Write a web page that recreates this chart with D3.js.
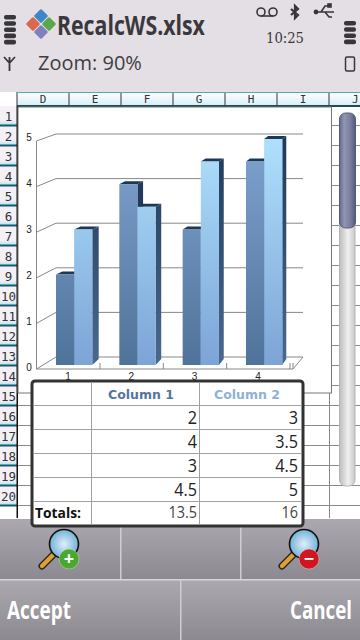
<!DOCTYPE html>
<html><head><meta charset="utf-8">
<script src="https://cdn.jsdelivr.net/npm/d3@7"></script>
<style>html,body{margin:0;padding:0;background:#fff;overflow:hidden}svg{display:block}text{font-family:"Open Sans",sans-serif}</style>
</head><body><svg id="c" width="360" height="640"></svg>
<script>
const categories=[1,2,3,4];
const column1=[2,4,3,4.5];
const column2=[3,3.5,4.5,5];
const yTicks=[0,1,2,3,4,5];
const colHeaders=["D","E","F","G","H","I","J"];
const rowHeaders=d3.range(1,21);
const tableRows=[["",2,3],["",4,3.5],["",3,4.5],["",4.5,5]];
const totals=["Totals:","13.5","16"];
const seriesNames=["Column 1","Column 2"];

const svg=d3.select("#c");
const defs=svg.append("defs");
function grad(id,stops,x2=0,y2=1,user){const g=defs.append("linearGradient").attr("id",id);
 if(user){g.attr("gradientUnits","userSpaceOnUse").attr("x1",0).attr("x2",0).attr("y1",139).attr("y2",365);}
 else g.attr("x1",0).attr("y1",0).attr("x2",x2).attr("y2",y2);
 stops.forEach(s=>g.append("stop").attr("offset",s[0]).attr("stop-color",s[1]));}
grad("b1",[[0,"#7fa3d0"],[1,"#50739a"]],0,1,true);
grad("b2",[[0,"#aee0fc"],[1,"#7ca4d6"]],0,1,true);
grad("side",[[0,"#20395a"],[1,"#48698f"]],0,1,true);
grad("thumb",[[0,"#5f6a8c"],[.3,"#9297b0"],[.7,"#767c9c"],[1,"#4f5a7a"]],1,0);
grad("track",[[0,"#bcbcbc"],[.55,"#f0f0f0"],[1,"#c8c8c8"]],1,0);
grad("btn",[[0,"#aba8b0"],[1,"#8c8990"]]);
grad("hdr",[[0,"#ffffff"],[1,"#d6eef4"]]);
grad("rhdr",[[0,"#f6f0f6"],[.72,"#f2f0f6"],[1,"#a8e0ee"]]);
const lens=defs.append("radialGradient").attr("id","lens");
lens.append("stop").attr("offset",0).attr("stop-color","#dcf0fa");lens.append("stop").attr("offset",1).attr("stop-color","#76b0d8");

// squeeze a text horizontally to mimic the device font's narrower glyphs
function squeeze(sel,f){const n=sel.node();sel.attr("textLength",n.getComputedTextLength()*f).attr("lengthAdjust","spacingAndGlyphs");return sel;}
// draw a text at (x,y) scaled horizontally so that it is exactly w wide
function fitWidth(sel,x,yy,w){const k=w/sel.node().getComputedTextLength();sel.attr("transform",`translate(${x},${yy}) scale(${k},1)`);return sel;}

// status pane
svg.append("rect").attr("width",360).attr("height",92).attr("fill","#e3dfe4");
fitWidth(svg.append("text").attr("font-size",27).attr("font-weight",700).attr("fill","#3a383c").text("RecalcWS.xlsx"),57,35,148);
svg.append("text").attr("x",38).attr("y",70).attr("font-size",20).attr("fill","#3f3d42").text("Zoom: 90%");
svg.append("text").attr("x",266).attr("y",43).attr("font-size",15).attr("fill","#3a383c").style("font-family","'DejaVu Serif'").attr("textLength",38).attr("lengthAdjust","spacingAndGlyphs").text("10:25");
[[4,15,5],[344,21,4]].forEach(p=>d3.range(p[2]).forEach(i=>svg.append("rect").attr("x",p[0]).attr("y",p[1]+i*6.2).attr("width",12).attr("height",4.6).attr("rx",2).attr("fill","#38363a")));
svg.append("path").attr("d","M4 57 L9.5 63 L15 57 M9.5 57V71").attr("fill","none").attr("stroke","#38363a").attr("stroke-width",1.8);
svg.append("rect").attr("x",345.5).attr("y",57).attr("width",9).attr("height",14).attr("rx",1.5).attr("fill","none").attr("stroke","#38363a").attr("stroke-width",1.5);
svg.append("g").attr("fill","none").attr("stroke","#38363a").attr("stroke-width",1.6).call(g=>{
 g.append("circle").attr("cx",261).attr("cy",12).attr("r",4);g.append("circle").attr("cx",273).attr("cy",12).attr("r",4);
 g.append("path").attr("d","M261 16H273");
 g.append("path").attr("stroke-width",2.2).attr("d","M291 9L298 15L295 18V6L298 9L291 15");
 g.append("path").attr("d","M316 12H334M321 12L325 6H329M325 12L329 17H332");
 g.append("circle").attr("cx",316).attr("cy",12).attr("r",1.6).attr("fill","#38363a");
 g.append("rect").attr("x",328).attr("y",4).attr("width",3).attr("height",3).attr("fill","#38363a");
});
// app icon
[["#3f86c8",41,16],["#5aa84a",49,24],["#d8694d",33,24],["#8080c0",41,32]].forEach(d=>svg.append("rect").attr("x",d[1]-5.2).attr("y",d[2]-5.2).attr("width",10.4).attr("height",10.4).attr("rx",1.5).attr("fill",d[0]).attr("transform",`rotate(45 ${d[1]} ${d[2]})`));

// sheet
const colX=d3.scaleLinear().domain([0,7]).range([17,381]);
const rowY=d3.scaleLinear().domain([1,21]).range([106,506]);
const sheet=svg.append("g");
sheet.selectAll("rect.c").data(colHeaders).join("rect").attr("x",(d,i)=>colX(i)).attr("y",92).attr("width",52).attr("height",14).attr("fill","url(#hdr)");
sheet.selectAll("line.v").data(d3.range(0,7)).join("line").attr("x1",colX).attr("x2",colX).attr("y1",92).attr("y2",106).attr("stroke","#333");
sheet.append("rect").attr("x",17).attr("y",92).attr("width",343).attr("height",1).attr("fill","#5ba7b3");
sheet.append("rect").attr("x",17).attr("y",105).attr("width",343).attr("height",2).attr("fill","#1c4a55");
sheet.selectAll("text.c").data(colHeaders.slice(0,6)).join("text").attr("x",(d,i)=>colX(i)+26).attr("y",103).attr("text-anchor","middle").attr("font-size",11).attr("fill","#333").style("font-family","'DejaVu Sans Mono'").text(d=>d);
sheet.append("text").attr("x",352).attr("y",103).attr("font-size",11).attr("fill","#333").style("font-family","'DejaVu Sans Mono'").text(colHeaders[6]);
sheet.selectAll("rect.r").data(rowHeaders).join("rect").attr("x",0).attr("y",d=>rowY(d)).attr("width",17).attr("height",20).attr("fill","url(#rhdr)");
sheet.selectAll("rect.rb").data(rowHeaders).join("rect").attr("x",0).attr("y",d=>rowY(d)+18.5).attr("width",17).attr("height",2).attr("fill","#125a70");
sheet.selectAll("text.r").data(rowHeaders).join("text").attr("x",8.5).attr("y",d=>rowY(d)+15).attr("text-anchor","middle").attr("font-size",12.5).attr("fill","#333").style("font-family","'DejaVu Sans Mono'").text(d=>d);
sheet.append("rect").attr("x",16.5).attr("y",106).attr("width",1.5).attr("height",412).attr("fill","#111");
const grid=sheet.append("g").attr("stroke","#8a8a8a").attr("stroke-width",1);
rowHeaders.forEach(r=>grid.append("line").attr("x1",18).attr("x2",360).attr("y1",rowY(r)+19.5).attr("y2",rowY(r)+19.5));
d3.range(1,7).forEach(i=>grid.append("line").attr("x1",colX(i)+.5).attr("x2",colX(i)+.5).attr("y1",107).attr("y2",518));
svg.append("rect").attr("x",18).attr("y",107).attr("width",313.5).attr("height",286).attr("fill","#fff").attr("stroke","#777");

// chart scales
const y=d3.scaleLinear().domain([0,5]).range([365,139]);
const yBack=d3.scaleLinear().domain([0,5]).range([357,134]);
const yFront=d3.scaleLinear().domain([0,5]).range([369,141]);
const yLabel=d3.scaleLinear().domain([0,5]).range([370.5,140.5]);
const x0=d3.scaleBand().domain(categories).range([56,309.3]);
const groupW=36.3;
const x1=d3.scaleBand().domain([0,1]).range([0,groupW]);
const depth=d3.scaleLinear().domain([1,4]).range([6.4,4]);
const plot=svg.append("g").attr("fill","none");
yTicks.forEach(t=>{
 plot.append("path").attr("d",`M36.5 ${yFront(t)}L56 ${yBack(t)}H303`).attr("stroke","#888");
 plot.append("text").attr("x",29).attr("y",yLabel(t)).attr("text-anchor","middle").attr("font-size",10).attr("fill","#222").style("font-family","'Liberation Sans'").text(t);
});
plot.append("path").attr("d",`M36.5 ${yFront(5)}V${yFront(0)}H293L303 ${yBack(0)}M293 369V363`).attr("stroke","#888");
categories.forEach(c=>{
 const tx=x0(c)+44;
 plot.append("line").attr("x1",tx).attr("x2",tx).attr("y1",363).attr("y2",369).attr("stroke","#888");
 plot.append("text").attr("x",x0(c)+12).attr("y",380).attr("text-anchor","middle").attr("font-size",10).attr("fill","#222").style("font-family","'Liberation Sans'").text(c);
});
const bars=svg.append("g");
const rows=categories.map((c,i)=>({c,i,v:[column1[i],column2[i]]}));
rows.forEach(r=>{
 const gx=x0(r.c),d=depth(r.c);
 [0,1].forEach(s=>{
  const bx=gx+x1(s),w=x1.bandwidth(),top=y(r.v[s]);
  bars.append("path").attr("d",`M${bx} ${top}L${bx+d} ${top-3}H${bx+w+d}L${bx+w} ${top}Z`).attr("fill","#1d3856");
  bars.append("path").attr("d",`M${bx+w} ${top}L${bx+w+d} ${top-3}V${y(0)-6}L${bx+w} ${y(0)}Z`).attr("fill",s==0?"#1f3a5a":"url(#side)");
 });
 [0,1].forEach(s=>{
  const bx=gx+x1(s),w=x1.bandwidth(),top=y(r.v[s]);
  bars.append("rect").attr("x",bx).attr("y",top).attr("width",w).attr("height",y(0)-top).attr("fill",`url(#b${s+1})`);
 });
});

// scrollbar
svg.append("rect").attr("x",339.5).attr("y",120).attr("width",15.5).attr("height",366).attr("rx",6).attr("fill","url(#track)").attr("stroke","#b4b4b4");
svg.append("rect").attr("x",339.5).attr("y",113).attr("width",16).attr("height",115).attr("rx",6).attr("fill","url(#thumb)").attr("stroke","#5a5a78");

// buttons
const b=svg.append("g");
b.append("rect").attr("x",0).attr("y",519).attr("width",360).attr("height",60).attr("fill","url(#btn)");
b.append("rect").attr("x",0).attr("y",580).attr("width",360).attr("height",60).attr("fill","url(#btn)");
b.append("rect").attr("x",0).attr("y",579).attr("width",360).attr("height",1.5).attr("fill","#d8d6dc");
[120,240].forEach(v=>b.append("rect").attr("x",v).attr("y",519).attr("width",1.5).attr("height",60).attr("fill","#cfcdd4"));
b.append("rect").attr("x",180).attr("y",580).attr("width",1.5).attr("height",60).attr("fill","#cfcdd4");
fitWidth(b.append("text").attr("font-size",25).attr("font-weight",700).attr("fill","#fff").text("Accept"),7,619,64);
fitWidth(b.append("text").attr("font-size",25).attr("font-weight",700).attr("fill","#fff").text("Cancel"),290,619,62);
[[0,"#4aa82e","+"],[240,"#d0161e","−"]].forEach(d=>{
 const g=b.append("g").attr("transform",`translate(${d[0]},0)`);
 g.append("line").attr("x1",42).attr("y1",566).attr("x2",55).attr("y2",553).attr("stroke","#222").attr("stroke-width",7).attr("stroke-linecap","round");
 g.append("line").attr("x1",42).attr("y1",566).attr("x2",55).attr("y2",553).attr("stroke","#e0a030").attr("stroke-width",4.5).attr("stroke-linecap","round");
 g.append("circle").attr("cx",64).attr("cy",544).attr("r",14.5).attr("fill","url(#lens)").attr("stroke","#111").attr("stroke-width",1.6);
 g.append("circle").attr("cx",69).attr("cy",559).attr("r",10).attr("fill",d[1]).attr("stroke","#fff").attr("stroke-opacity",.3);
 g.append("text").attr("x",69).attr("y",565).attr("text-anchor","middle").attr("font-size",18).attr("font-weight",700).attr("fill","#fff").text(d[2]);
});

// table popup
const rowLines=[405,429,453,477,501];
const t=svg.append("g");
t.append("rect").attr("x",32).attr("y",381).attr("width",271).attr("height",145).attr("rx",3).attr("fill","#fff").attr("stroke","#333").attr("stroke-width",3);
rowLines.forEach(v=>t.append("line").attr("x1",33).attr("x2",302).attr("y1",v+.5).attr("y2",v+.5).attr("stroke","#a0a0a0"));
[91.5,199.5].forEach(v=>t.append("line").attr("x1",v).attr("x2",v).attr("y1",382).attr("y2",525).attr("stroke","#a0a0a0"));
seriesNames.forEach((n,i)=>t.append("text").attr("x",[141,247][i]).attr("y",399).attr("text-anchor","middle").style("font-family","'DejaVu Sans'").attr("font-weight",700).attr("font-size",12.5).attr("fill",["#54769c","#8fb0d8"][i]).attr("textLength",66).attr("lengthAdjust","spacingAndGlyphs").text(n));
tableRows.forEach((r,i)=>{
 [[197,r[1]],[298,r[2]]].forEach(c=>squeeze(t.append("text").attr("x",c[0]).attr("y",424+24*i).attr("text-anchor","end").attr("font-size",18).attr("fill","#222").text(c[1]),.9));
});
t.append("text").attr("x",35).attr("y",518).attr("font-size",15).attr("font-weight",700).attr("fill","#111").attr("textLength",46).attr("lengthAdjust","spacingAndGlyphs").text(totals[0]);
[[197,totals[1]],[298,totals[2]]].forEach(c=>squeeze(t.append("text").attr("x",c[0]).attr("y",518).attr("text-anchor","end").attr("font-size",16).attr("fill","#444").text(c[1]),.9));
</script></body></html>
